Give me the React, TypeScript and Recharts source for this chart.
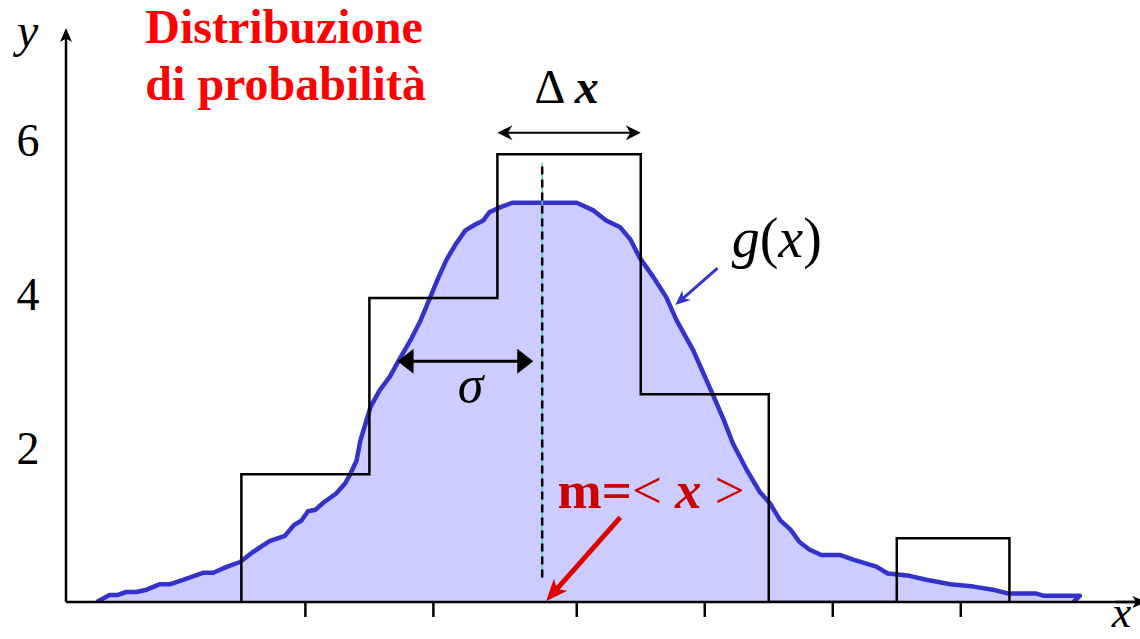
import React from 'react';
import { ComposedChart, Area, Line, XAxis, YAxis, ReferenceLine, ReferenceDot } from 'recharts';

// ---------- data ----------
const binEdges = [1.37, 2.37, 3.37, 4.49, 5.49, 6.49, 7.37];
const binHeights = [1.66, 3.95, 5.82, 2.7, 0, 0.83];

const curveX = [
  0.24, 0.34, 0.4, 0.47, 0.55, 0.63, 0.73, 0.81, 0.92, 1.07, 1.15, 1.26, 1.36, 1.46, 1.59, 1.71,
  1.78, 1.84, 1.89, 1.95, 2.01, 2.11, 2.18, 2.22, 2.27, 2.3, 2.34, 2.38, 2.45, 2.53, 2.6, 2.69,
  2.77, 2.84, 2.91, 2.97, 3.04, 3.12, 3.2, 3.26, 3.31, 3.39, 3.49, 3.7, 3.99, 4.12, 4.22, 4.33,
  4.41, 4.48, 4.59, 4.69, 4.77, 4.9, 4.98, 5.06, 5.14, 5.21, 5.32, 5.42, 5.5, 5.58, 5.66, 5.73,
  5.81, 5.9, 6.05, 6.15, 6.33, 6.42, 6.59, 6.72, 6.91, 7.09, 7.24, 7.36, 7.58, 7.64, 7.92, 7.87,
];
const curveY = [
  0, 0.09, 0.09, 0.13, 0.13, 0.16, 0.23, 0.23, 0.29, 0.38, 0.38, 0.46, 0.52, 0.65, 0.79, 0.86,
  1.0, 1.06, 1.18, 1.2, 1.29, 1.41, 1.54, 1.66, 1.84, 2.1, 2.32, 2.54, 2.75, 2.93, 3.14, 3.4,
  3.66, 3.94, 4.22, 4.44, 4.64, 4.83, 4.91, 4.96, 5.07, 5.13, 5.19, 5.19, 5.19, 5.09, 4.96, 4.87,
  4.71, 4.48, 4.22, 3.96, 3.66, 3.27, 2.97, 2.67, 2.36, 2.06, 1.71, 1.43, 1.28, 1.06, 0.94, 0.78,
  0.68, 0.61, 0.61, 0.55, 0.46, 0.37, 0.34, 0.29, 0.23, 0.2, 0.16, 0.11, 0.11, 0.08, 0.08, 0.0,
];

const xTicks = [1.87, 2.87, 3.99, 4.99, 5.99, 6.99];
const yTicks = [2, 4, 6];

const meanX = 3.72;
const binWidthSpan = [3.37, 4.49];
const sigmaSpan = [2.59, 3.65];

// ---------- derived tables ----------
const curveData = curveX.map((x, i) => ({ x, y: curveY[i] }));
const histData = (() => {
  const pts: { x: number; y: number }[] = [{ x: binEdges[0], y: 0 }];
  binHeights.forEach((h, i) => {
    pts.push({ x: binEdges[i], y: h });
    pts.push({ x: binEdges[i + 1], y: h });
  });
  pts.push({ x: binEdges[binEdges.length - 1], y: 0 });
  return pts;
})();

const SERIF = '"Liberation Serif", "Times New Roman", serif';

type ArrowOpts = {
  color: string;
  width: number;
  len: number;
  half: number;
  barb: number;
  start?: boolean;
  end?: boolean;
  line?: boolean;
};

const arrowShape = (o: ArrowOpts) => (p: any) => {
  const { x1, y1, x2, y2 } = p;
  const dx = x2 - x1;
  const dy = y2 - y1;
  const L = Math.hypot(dx, dy) || 1;
  const ux = dx / L;
  const uy = dy / L;
  const nx = -uy;
  const ny = ux;
  const head = (tx: number, ty: number, ex: number, ey: number) => {
    const bx = tx - ex * o.len;
    const by = ty - ey * o.len;
    const mx = tx - ex * o.len * (1 - o.barb);
    const my = ty - ey * o.len * (1 - o.barb);
    return `M${tx},${ty} L${bx + nx * o.half},${by + ny * o.half} L${mx},${my} L${bx - nx * o.half},${by - ny * o.half} Z`;
  };
  const inset = o.len * (1 - o.barb) * 0.9;
  const sx = o.start ? x1 + ux * inset : x1;
  const sy = o.start ? y1 + uy * inset : y1;
  const ex = o.end ? x2 - ux * inset : x2;
  const ey = o.end ? y2 - uy * inset : y2;
  return (
    <g>
      {o.line !== false && (
        <line x1={sx} y1={sy} x2={ex} y2={ey} stroke={o.color} strokeWidth={o.width} />
      )}
      {o.end && <path d={head(x2, y2, ux, uy)} fill={o.color} />}
      {o.start && <path d={head(x1, y1, -ux, -uy)} fill={o.color} />}
    </g>
  );
};

const textShape = (content: React.ReactNode, style: Record<string, any>) => (p: any) => (
  <text x={p.cx} y={p.cy} fontFamily={SERIF} {...style}>
    {content}
  </text>
);

const YTick = (p: any) => (
  <text
    x={p.x - 38}
    y={p.y}
    textAnchor="middle"
    dominantBaseline="central"
    fontFamily={SERIF}
    fontSize={46}
    fill="#000"
  >
    {p.payload.value}
  </text>
);

export default function App() {
  return (
    <div style={{ position: 'absolute', left: 0, top: 0, width: 1140, height: 639, background: '#fff' }}>
      <ComposedChart width={1140} height={639} margin={{ top: 25, right: 0, bottom: 0, left: 0 }}>
        <XAxis
          type="number"
          dataKey="x"
          domain={[0, 8.39]}
          allowDataOverflow
          ticks={xTicks}
          tickFormatter={() => ''}
          tickSize={15}
          height={37}
          axisLine={{ stroke: '#000', strokeWidth: 2.5 }}
          tickLine={{ stroke: '#000', strokeWidth: 2.5 }}
        />
        <YAxis
          type="number"
          domain={[0, 7.5]}
          allowDataOverflow
          ticks={yTicks}
          width={66}
          tickSize={0}
          tickMargin={0}
          axisLine={false}
          tickLine={false}
          tick={<YTick />}
        />
        <Area
          data={curveData}
          dataKey="y"
          type="linear"
          baseValue={0}
          stroke="#3333cc"
          strokeWidth={4.5}
          strokeLinejoin="round"
          fill="rgb(159,159,255)"
          fillOpacity={0.533}
          isAnimationActive={false}
          dot={false}
          activeDot={false}
        />
        <Line
          data={histData}
          dataKey="y"
          type="linear"
          stroke="#000"
          strokeWidth={2.5}
          dot={false}
          activeDot={false}
          isAnimationActive={false}
        />
        {/* mean line */}
        <ReferenceLine
          segment={[{ x: meanX, y: 0.32 }, { x: meanX, y: 5.71 }]}
          stroke="#4fd1c5"
          strokeWidth={1.5}
          ifOverflow="visible"
        />
        <ReferenceLine
          segment={[{ x: meanX, y: 0.32 }, { x: meanX, y: 5.71 }]}
          stroke="#000"
          strokeWidth={2.5}
          strokeDasharray="8 5"
          ifOverflow="visible"
        />
        {/* y axis with arrow */}
        <ReferenceLine
          segment={[{ x: 0, y: 0 }, { x: 0, y: 7.46 }]}
          ifOverflow="visible"
          shape={arrowShape({ color: '#000', width: 2.5, len: 14, half: 6, barb: 0.25, end: true })}
        />
        {/* x axis arrow head */}
        <ReferenceLine
          segment={[{ x: 8.2, y: 0 }, { x: 8.44, y: 0 }]}
          ifOverflow="visible"
          shape={arrowShape({ color: '#000', width: 2.5, len: 14, half: 6, barb: 0.25, end: true })}
        />
        {/* Delta x arrow */}
        <ReferenceLine
          segment={[{ x: binWidthSpan[0], y: 6.1 }, { x: binWidthSpan[1], y: 6.1 }]}
          ifOverflow="visible"
          shape={arrowShape({ color: '#000', width: 2, len: 15, half: 7.5, barb: 0.3, start: true, end: true })}
        />
        {/* sigma arrow */}
        <ReferenceLine
          segment={[{ x: sigmaSpan[0], y: 3.13 }, { x: sigmaSpan[1], y: 3.13 }]}
          ifOverflow="visible"
          shape={arrowShape({ color: '#000', width: 3, len: 16, half: 12.5, barb: 0, start: true, end: true })}
        />
        {/* g(x) pointer */}
        <ReferenceLine
          segment={[{ x: 5.09, y: 4.34 }, { x: 4.76, y: 3.86 }]}
          ifOverflow="visible"
          shape={arrowShape({ color: '#3333cc', width: 3, len: 15, half: 6.5, barb: 0.3, end: true })}
        />
        {/* mean pointer */}
        <ReferenceLine
          segment={[{ x: 4.33, y: 1.1 }, { x: 3.75, y: 0.01 }]}
          ifOverflow="visible"
          shape={arrowShape({ color: '#dd0000', width: 5, len: 22, half: 9, barb: 0.25, end: true })}
        />
        {/* texts */}
        <ReferenceDot
          x={0.62}
          y={7.26}
          ifOverflow="visible"
          shape={textShape('Distribuzione', { fontSize: 48, fontWeight: 'bold', fill: '#ff0000' })}
        />
        <ReferenceDot
          x={0.62}
          y={6.52}
          ifOverflow="visible"
          shape={textShape('di probabilità', { fontSize: 48, fontWeight: 'bold', fill: '#ff0000' })}
        />
        <ReferenceDot
          x={-0.3}
          y={7.22}
          ifOverflow="visible"
          shape={textShape('y', { fontSize: 48, fontStyle: 'italic', textAnchor: 'middle', fill: '#000' })}
        />
        <ReferenceDot
          x={8.17}
          y={-0.32}
          ifOverflow="visible"
          shape={textShape('x', { fontSize: 44, fontStyle: 'italic', fill: '#000' })}
        />
        <ReferenceDot
          x={3.91}
          y={6.48}
          ifOverflow="visible"
          shape={textShape(
            <>
              <tspan>Δ </tspan>
              <tspan fontStyle="italic" fontWeight="bold">x</tspan>
            </>,
            { fontSize: 48, textAnchor: 'middle', fill: '#000' }
          )}
        />
        <ReferenceDot
          x={3.16}
          y={2.6}
          ifOverflow="visible"
          shape={textShape('σ', { fontSize: 52, fontStyle: 'italic', textAnchor: 'middle', fill: '#000' })}
        />
        <ReferenceDot
          x={5.2}
          y={4.48}
          ifOverflow="visible"
          shape={textShape(
            <>
              <tspan fontStyle="italic">g</tspan>
              <tspan>(</tspan>
              <tspan fontStyle="italic">x</tspan>
              <tspan>)</tspan>
            </>,
            { fontSize: 56, fill: '#000' }
          )}
        />
        <ReferenceDot
          x={3.84}
          y={1.22}
          ifOverflow="visible"
          shape={textShape(
            <>
              <tspan fontWeight="bold">m=</tspan>
              <tspan>&lt; </tspan>
              <tspan fontWeight="bold" fontStyle="italic">x</tspan>
              <tspan> &gt;</tspan>
            </>,
            { fontSize: 53, fill: '#cc0000' }
          )}
        />
      </ComposedChart>
    </div>
  );
}
